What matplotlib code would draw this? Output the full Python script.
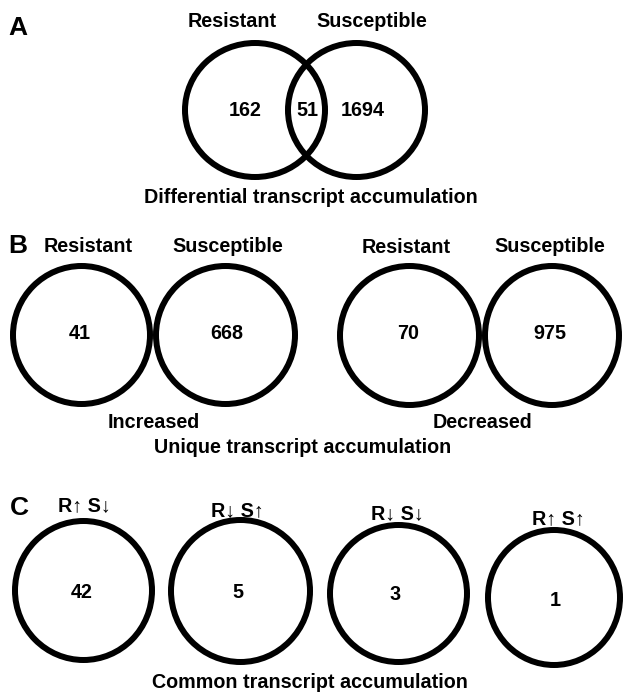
import matplotlib
matplotlib.use("Agg")
import matplotlib.pyplot as plt
from matplotlib.patches import Ellipse

# ---------------- data ----------------
panel_a_sets = ["Resistant", "Susceptible"]
panel_a_counts = [162, 51, 1694]          # R only, shared, S only
panel_a_title = "Differential transcript accumulation"

panel_b_groups = ["Increased", "Decreased"]
panel_b_sets = ["Resistant", "Susceptible", "Resistant", "Susceptible"]
panel_b_counts = [41, 668, 70, 975]
panel_b_title = "Unique transcript accumulation"

panel_c_labels = ["R\u2191 S\u2193", "R\u2193 S\u2191", "R\u2193 S\u2193", "R\u2191 S\u2191"]
panel_c_counts = [42, 5, 3, 1]
panel_c_title = "Common transcript accumulation"

panel_letters = ["A", "B", "C"]

# ---------------- layout (pixels, y downward) ----------------
W, H = 623, 694
FAM = ["Liberation Sans", "DejaVu Sans"]
LW = 6 * 72 / 100  # 6 px stroke

fig = plt.figure(figsize=(W / 100, H / 100), dpi=100)
ax = fig.add_axes([0, 0, 1, 1])
ax.set_xlim(0, W)
ax.set_ylim(H, 0)
ax.axis("off")

def txt(x, y, s, size=14.2, **kw):
    ax.text(x, y, s, ha="center", va="center", fontsize=size,
            fontweight="bold", family=FAM, **kw)

def circ(cx, cy, w, h):
    ax.add_patch(Ellipse((cx, cy), w, h, fill=False, lw=LW, ec="black"))

# Panel letters
letter_pos = [(18, 28), (18, 246), (19, 508)]
for L, (x, y) in zip(panel_letters, letter_pos):
    txt(x, y, L, size=19)

# Panel A
a_circles = [(255, 110, 140, 134), (356.5, 110, 137, 134)]
for c in a_circles:
    circ(*c)
a_label_pos = [(232, 21), (372, 21)]
for s, (x, y) in zip(panel_a_sets, a_label_pos):
    txt(x, y, s)
a_num_x = [245, 307, 363]
for n, x in zip(panel_a_counts, a_num_x):
    txt(x, 110, str(n))
txt(311, 197, panel_a_title)

# Panel B
b_circles = [(81.5, 335, 137, 138), (225.5, 335, 139, 138),
             (409.5, 335.5, 139, 139), (552, 335.5, 134, 139)]
for c in b_circles:
    circ(*c)
b_label_pos = [(88, 246), (228, 246), (406, 247), (550, 246)]
for s, (x, y) in zip(panel_b_sets, b_label_pos):
    txt(x, y, s)
b_num_x = [80, 227, 408, 550]
for n, x in zip(panel_b_counts, b_num_x):
    txt(x, 333, str(n))
b_group_x = [154, 483]
for g, x in zip(panel_b_groups, b_group_x):
    txt(x, 422, g)
txt(303, 447, panel_b_title)

# Panel C
c_circles = [(83.5, 590.5, 137, 139), (240.5, 591, 139, 142),
             (398.5, 593.5, 137, 137), (554, 597.5, 132, 135)]
for c in c_circles:
    circ(*c)
c_label_pos = [(84, 506), (237, 511), (397, 514), (558, 519)]
for s, (x, y) in zip(panel_c_labels, c_label_pos):
    txt(x, y, s)
c_num_pos = [(82, 592), (238, 593), (395, 594), (555, 600)]
for n, (x, y) in zip(panel_c_counts, c_num_pos):
    txt(x, y, str(n))
txt(310, 683, panel_c_title)

fig.savefig("out.png", dpi=100, facecolor="white")
